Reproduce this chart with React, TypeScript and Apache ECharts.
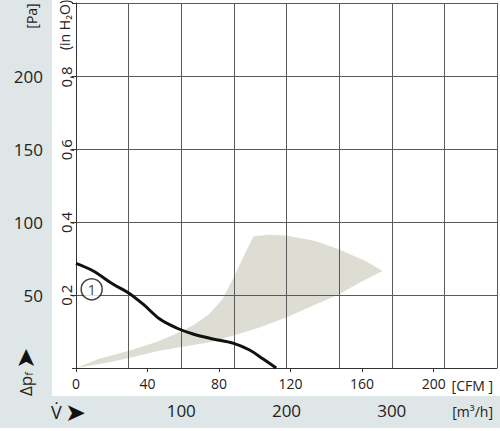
import React, { useEffect, useRef } from "react";
import * as echarts from "echarts";

// Fan curve 1 : flow [m³/h] vs static pressure [Pa]
const curveFlow = [0, 16.4, 35.4, 49.6, 63.8, 79.6, 95.5, 111.2, 130.1, 149.1, 164.9, 177.5, 190.2];
const curvePa = [71.6, 66.4, 57.3, 51.6, 43.7, 33.5, 27.4, 23.3, 19.9, 17.0, 12.3, 6.3, 0];

// Shaded operating region outline [m³/h], [Pa]
const regionFlow = [0, 22.7, 50.5, 77, 97.9, 113, 126.4, 139, 149.1, 158.6, 168.7, 184, 199.7, 228.2, 250.2, 275.5, 291.3, 269.2, 250.2, 224.9, 199.7, 174.4, 149.1, 127, 79, 50.5, 31.6];
const regionPa = [0, 6.5, 11.9, 18.0, 24.4, 30.0, 36.9, 47, 61, 75.5, 90.2, 91.2, 90.7, 86.8, 81.2, 73.2, 66.4, 58.4, 50.5, 42.6, 34.6, 27.8, 22.1, 17.6, 11.9, 6.9, 3.9];

// Curve marker position
const markerFlow = [14.9];
const markerPa = [53.9];
const markerLabel = ["1"];

// Axes
const paTicks = [50, 100, 150, 200];
const inH2OTicks = [0.2, 0.4, 0.6, 0.8];
const cfmTicks = [0, 40, 80, 120, 160, 200];
const m3hTicks = [100, 200, 300];
const M3H_PER_CFM = 1.699;
const PA_PER_INH2O = 249.09;

const FONT = "'Open Sans', 'Noto Sans', sans-serif";
const TXT = "#222";
const PANEL = "#dfe6e8";

export default function App() {
  const ref = useRef<HTMLDivElement>(null);
  useEffect(() => {
    if (!ref.current) return;
    const chart = echarts.init(ref.current, undefined, { renderer: "svg" });
    const near = (v: number, arr: number[]) => arr.some((a) => Math.abs(a - v) < 1e-6);
    chart.setOption({
      animation: false,
      backgroundColor: "#fff",
      textStyle: { fontFamily: FONT },
      grid: { left: 76, right: 2, top: 1, bottom: 63, containLabel: false },
      graphic: [
        { type: "rect", z: -10, silent: true, shape: { x: 0, y: 0, width: 52, height: 396 }, style: { fill: PANEL } },
        { type: "rect", z: -10, silent: true, shape: { x: 0, y: 396, width: 500, height: 32 }, style: { fill: PANEL } },
        { type: "line", z: 3, silent: true, shape: { x1: 72, y1: 368.5, x2: 76, y2: 368.5 }, style: { stroke: "#333", lineWidth: 1 } },
        { type: "text", x: 31, y: 16, rotation: Math.PI / 2, style: { text: "[Pa]", align: "center", verticalAlign: "middle", fontSize: 14, fill: TXT, fontFamily: FONT } },
        { type: "text", x: 64, y: 25, rotation: Math.PI / 2, style: { text: "(in H₂O)", align: "center", verticalAlign: "middle", fontSize: 14, fill: TXT, fontFamily: FONT } },
        {
          type: "text", x: 25, y: 372, rotation: Math.PI / 2,
          style: {
            text: "{a|Δp}{b|f} {c|➤}", align: "center", verticalAlign: "middle", fill: TXT,
            rich: {
              a: { fontSize: 17, fontFamily: FONT, fill: TXT },
              b: { fontSize: 11, fontFamily: FONT, fill: TXT, padding: [6, 0, 0, 0] },
              c: { fontSize: 25, fontFamily: "DejaVu Sans", fill: "#111" },
            },
          },
        },
        {
          type: "text", x: 51, y: 412,
          style: {
            text: "{a|V̇} {c|➤}", align: "left", verticalAlign: "middle", fill: TXT,
            rich: {
              a: { fontSize: 18, fontFamily: FONT, fill: TXT },
              c: { fontSize: 25, fontFamily: "DejaVu Sans", fill: "#111" },
            },
          },
        },
        { type: "text", x: 493, y: 385, style: { text: "[CFM ]", align: "right", verticalAlign: "middle", fontSize: 14, fill: TXT, fontFamily: FONT } },
        { type: "text", x: 493, y: 411, style: { text: "[m³/h]", align: "right", verticalAlign: "middle", fontSize: 14, fill: TXT, fontFamily: FONT } },
      ],
      xAxis: [
        {
          type: "value", min: 0, max: 400, interval: 50, position: "bottom",
          axisLine: { show: false }, axisTick: { show: false }, axisLabel: { show: false },
          splitLine: { show: true, lineStyle: { color: "#5a5a5a", width: 1 } },
        },
        {
          type: "value", min: 0, max: 400, interval: 100, position: "bottom",
          axisLine: { show: false }, axisTick: { show: false }, splitLine: { show: false },
          axisLabel: { margin: 34, fontSize: 17, color: TXT, fontFamily: FONT, formatter: (v: number) => (near(v, m3hTicks) ? String(v) : "") },
        },
        {
          type: "value", min: 0, max: 400 / M3H_PER_CFM, interval: 40, position: "bottom",
          axisLine: { show: true, lineStyle: { color: "#333", width: 1 } },
          axisTick: { show: true, length: 4, lineStyle: { color: "#333" } },
          splitLine: { show: false },
          axisLabel: { margin: 8, fontSize: 14, color: TXT, fontFamily: FONT, showMaxLabel: false, formatter: (v: number) => (near(v, cfmTicks) ? String(v) : "") },
        },
      ],
      yAxis: [
        {
          type: "value", min: 0, max: 250, interval: 50, position: "left",
          axisLine: { show: true, lineStyle: { color: "#333", width: 1 } },
          axisTick: { show: true, length: 4, lineStyle: { color: "#333" } },
          splitLine: { show: true, lineStyle: { color: "#5a5a5a", width: 1 } },
          axisLabel: { margin: 33, fontSize: 17, color: TXT, fontFamily: FONT, formatter: (v: number) => (near(v, paTicks) ? String(v) : "") },
        },
        {
          type: "value", min: 0, max: 250 / PA_PER_INH2O, interval: 0.2, position: "left",
          axisLine: { show: false }, axisTick: { show: false }, splitLine: { show: false },
          axisLabel: {
            rotate: 90, margin: 3, fontSize: 15, color: TXT, fontFamily: FONT,
            formatter: (v: number) => (near(v, inH2OTicks) ? v.toFixed(1).replace(".", ",") : ""),
          },
        },
      ],
      series: [
        {
          type: "custom", xAxisIndex: 0, yAxisIndex: 0, z: -1, silent: true,
          data: [[0, 0]],
          renderItem: (_params: any, api: any) => {
            const pts = regionFlow.map((f, i) => api.coord([f, regionPa[i]]));
            return { type: "polygon", shape: { points: pts }, style: { fill: "#deddd3", stroke: null } };
          },
        },
        {
          type: "line", xAxisIndex: 0, yAxisIndex: 0, smooth: 0.35, symbol: "none", z: 4,
          lineStyle: { color: "#111", width: 3 },
          data: curveFlow.map((f, i) => [f, curvePa[i]]),
        },
        {
          type: "scatter", xAxisIndex: 0, yAxisIndex: 0, z: 5, symbol: "circle", symbolSize: 21,
          itemStyle: { color: "#fff", borderColor: "#111", borderWidth: 1.5 },
          label: { show: true, position: "inside", color: "#111", fontSize: 15, fontFamily: FONT, formatter: (p: any) => markerLabel[p.dataIndex] },
          data: markerFlow.map((f, i) => [f, markerPa[i]]),
        },
      ],
    });
    return () => chart.dispose();
  }, []);
  return <div ref={ref} style={{ position: "fixed", left: 0, top: 0, width: 500, height: 431, background: "#fff" }} />;
}
